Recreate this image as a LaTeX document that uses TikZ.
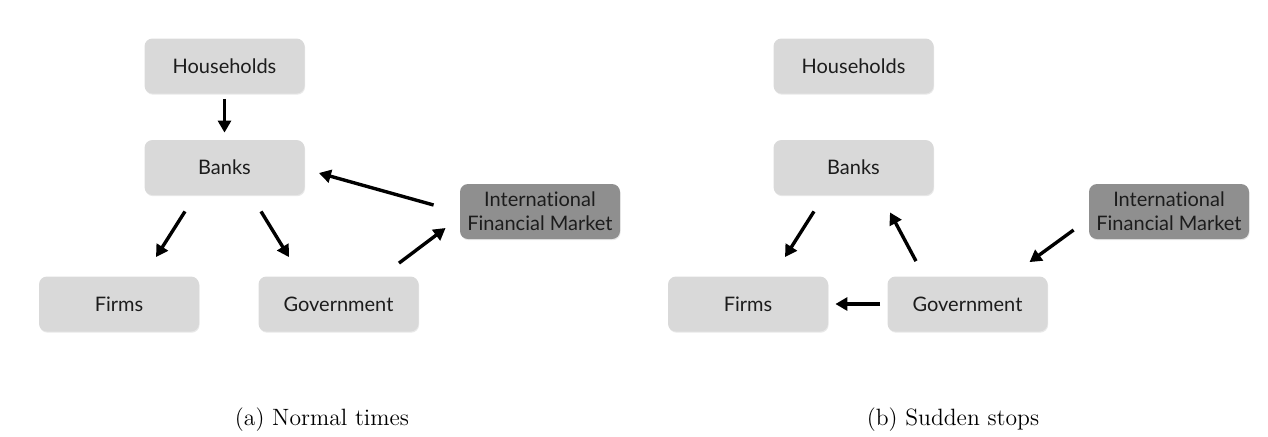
\documentclass[tikz,border=0pt]{standalone}
\usepackage{fontspec}
\newfontfamily\boxfont[Ligatures=NoCommon]{Lato}
\usepackage{xcolor}
\definecolor{boxgray}{HTML}{D9D9D9}
\definecolor{darkgray}{HTML}{8F8F8F}
\definecolor{ink}{HTML}{1C1C1C}
\usepackage{tikz}
\usetikzlibrary{arrows.meta,positioning,shadows}
\tikzset{
  box/.style  = {rectangle, rounded corners=4pt, draw=none, fill=boxgray,
                 minimum width=80pt, minimum height=27.5pt, align=center,
                 text=ink, font=\boxfont\fontsize{10}{12}\selectfont,
                 drop shadow={shadow xshift=0.3pt, shadow yshift=-0.6pt,
                              opacity=0.18, fill=black!50}},
  mbox/.style = {box, fill=darkgray},
  arr/.style  = {-{Triangle[length=6pt,width=6.5pt]}, line width=1.7pt, draw=black},
  caption/.style = {anchor=base, font=\fontsize{11.8}{13}\selectfont}
}

\begin{document}
\begin{tikzpicture}[x=0.5pt, y=-0.5pt]
  \useasboundingbox (0,0) rectangle (1268,436);

  % (a) normal times
  \node[box]  (a-hh)    at (224.5,66)    {Households};
  \node[box]  (a-banks) at (224.5,167.5) {Banks};
  \node[box]  (a-firms) at (119,304)     {Firms};
  \node[box]  (a-gov)   at (338.5,304)   {Government};
  \node[mbox] (a-ifm)   at (540,211.5)   {International\\Financial Market};

  \draw[arr, shorten <=2.5pt, shorten >=3.5pt] (a-hh) -- (a-banks);
  \draw[arr] ([shift={(-13pt,3.25pt)}]a-ifm.west) -- ([shift={(7pt,-2.75pt)}]a-banks.east);
  \draw[arr] ([shift={(-19.75pt,-8pt)}]a-banks.south) -- ([shift={(18.5pt,9.5pt)}]a-firms.north);
  \draw[arr] ([shift={(18.25pt,-8pt)}]a-banks.south) -- ([shift={(-24.75pt,9.5pt)}]a-gov.north);
  \draw[arr] ([shift={(30.25pt,6.5pt)}]a-gov.north) -- ([shift={(-7pt,-8.25pt)}]a-ifm.west);

  \node[caption] (a-cap) at (322,425.5) {(a) Normal times};

  % (b) sudden stops
  \node[box]  (b-hh)    at (853.5,66)    {Households};
  \node[box]  (b-banks) at (853.5,167.5) {Banks};
  \node[box]  (b-firms) at (748,304)     {Firms};
  \node[box]  (b-gov)   at (967.5,304)   {Government};
  \node[mbox] (b-ifm)   at (1169,211.5)  {International\\Financial Market};

  \draw[arr] ([shift={(-19.75pt,-8pt)}]b-banks.south) -- ([shift={(18.5pt,9.5pt)}]b-firms.north);
  \draw[arr] ([shift={(-25.75pt,7.5pt)}]b-gov.north) -- ([shift={(18.25pt,-8.5pt)}]b-banks.south);
  \draw[arr, shorten <=3.5pt, shorten >=3.5pt] (b-gov) -- (b-firms);
  \draw[arr] ([shift={(-7.5pt,-9.25pt)}]b-ifm.west) -- ([shift={(31pt,7pt)}]b-gov.north);

  \node[caption] (b-cap) at (953,425.5) {(b) Sudden stops};
\end{tikzpicture}
\end{document}
